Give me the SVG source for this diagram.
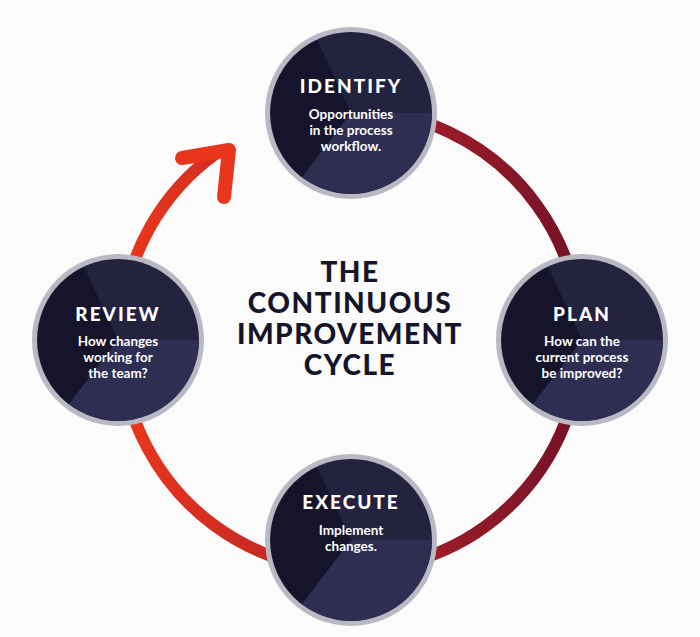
<svg xmlns="http://www.w3.org/2000/svg" width="700" height="637" viewBox="0 0 700 637">
<style>
.h{font-family:Lato,"Open Sans",sans-serif;font-weight:900;fill:#fff;font-size:19px;letter-spacing:2px;text-anchor:middle}
.s{font-family:Lato,"Open Sans",sans-serif;font-weight:700;fill:#fff;font-size:13.5px;text-anchor:middle}
.t{font-family:Lato,"Open Sans",sans-serif;font-weight:900;fill:#15142a;font-size:28px;letter-spacing:1.5px;text-anchor:middle}
</style>
<defs>
<linearGradient id="g" gradientUnits="userSpaceOnUse" x1="130" y1="300" x2="580" y2="300">
<stop offset="0" stop-color="#e8361c"/><stop offset="0.5" stop-color="#b3202a"/><stop offset="1" stop-color="#741325"/>
</linearGradient>
<g id="disc">
<circle r="86" fill="#b9b8c3"/>
<circle r="81" fill="#23223f"/>
<path d="M0 0 L-34 -73 A81 81 0 0 0 -49 64 Z" fill="#15142a"/>
<path d="M0 0 L81 0 A81 81 0 0 1 -49 64 Z" fill="#2e2d52"/>
</g>
</defs>
<rect width="700" height="637" fill="#fbfbfb"/>
<g id="connectors">
<path d="M350 110 A230 230 0 1 1 218 152" fill="none" stroke="url(#g)" stroke-width="12"/>
<path d="M182 158 L229 150 L224 197" fill="none" stroke="#e8361c" stroke-width="14" stroke-linecap="round" stroke-linejoin="round"/>
</g>
<g id="identify"><use href="#disc" x="351" y="113"/>
<text class="h" x="351" y="93">IDENTIFY</text>
<text class="s" x="351" y="119">Opportunities</text><text class="s" x="351" y="135">in the process</text><text class="s" x="351" y="151">workflow.</text></g>
<g id="plan"><use href="#disc" x="582" y="340"/>
<text class="h" x="582" y="321">PLAN</text>
<text class="s" x="582" y="346">How can the</text><text class="s" x="582" y="362">current process</text><text class="s" x="582" y="378">be improved?</text></g>
<g id="review"><use href="#disc" x="118" y="340"/>
<text class="h" x="118" y="321">REVIEW</text>
<text class="s" x="118" y="346">How changes</text><text class="s" x="118" y="362">working for</text><text class="s" x="118" y="378">the team?</text></g>
<g id="execute"><use href="#disc" x="351" y="540"/>
<text class="h" x="351" y="509">EXECUTE</text>
<text class="s" x="351" y="535">Implement</text><text class="s" x="351" y="551">changes.</text></g>
<g id="title">
<text class="t" x="350" y="282">THE</text><text class="t" x="350" y="313">CONTINUOUS</text><text class="t" x="350" y="344">IMPROVEMENT</text><text class="t" x="350" y="375">CYCLE</text></g>
</svg>
